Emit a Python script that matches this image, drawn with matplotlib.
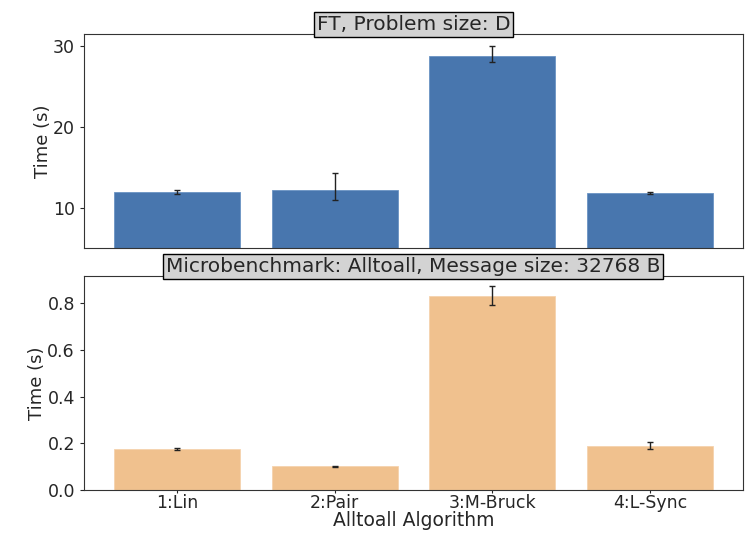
import matplotlib
matplotlib.use("Agg")
import matplotlib.pyplot as plt
from matplotlib.ticker import MultipleLocator
import numpy as np

algorithms = ["1:Lin", "2:Pair", "3:M-Bruck", "4:L-Sync"]

# FT kernel, problem size D (seconds)
ftTime = [11.9, 12.2, 28.8, 11.8]
ftErrLow = [0.2, 1.3, 0.7, 0.15]
ftErrHigh = [0.25, 2.1, 1.2, 0.15]

# alltoall microbenchmark, 32768 B messages (seconds)
mbTime = [0.175, 0.102, 0.833, 0.190]
mbErrLow = [0.003, 0.002, 0.04, 0.016]
mbErrHigh = [0.003, 0.002, 0.04, 0.014]

textColor = "#262626"
plt.rcParams.update({
    "font.size": 13,
    "text.color": textColor,
    "axes.labelcolor": textColor,
    "axes.edgecolor": "#333333",
    "xtick.color": textColor,
    "ytick.color": textColor,
    "xtick.labelsize": 12.5,
    "ytick.labelsize": 12.5,
})

fig = plt.figure(figsize=(7.52, 5.33), dpi=100)
axTop = fig.add_axes([0.1117, 0.5347, 0.8763, 0.4013])
axBot = fig.add_axes([0.1117, 0.0807, 0.8763, 0.4013])

x = np.arange(len(algorithms))
titleBox = dict(facecolor="lightgray", edgecolor="black", pad=2)

axTop.bar(x, ftTime, width=0.8, color="#4876ae", edgecolor="#6a93c4", linewidth=0.6,
          yerr=[ftErrLow, ftErrHigh], capsize=2.5,
          error_kw=dict(ecolor="#222222", elinewidth=1.0, capthick=1.0))
axTop.set_ylim(bottom=5)
axTop.yaxis.set_major_locator(MultipleLocator(10))
axTop.set_xticks([])
axTop.set_ylabel("Time (s)", labelpad=1)
axTop.set_title("FT, Problem size: D", fontsize=14.5, bbox=titleBox, pad=2)

axBot.bar(x, mbTime, width=0.8, color="#f0c18e", edgecolor="#f5d3ae", linewidth=0.6,
          yerr=[mbErrLow, mbErrHigh], capsize=2.5,
          error_kw=dict(ecolor="#222222", elinewidth=1.0, capthick=1.0))
axBot.set_xticks(x)
axBot.set_xticklabels(algorithms)
axBot.tick_params(axis="x", length=2.5, pad=0.5)
axBot.set_ylabel("Time (s)", labelpad=1)
axBot.set_xlabel("Alltoall Algorithm", fontsize=13.5, labelpad=-1)
axBot.set_title("Microbenchmark: Alltoall, Message size: 32768 B", fontsize=14.5,
                bbox=titleBox, pad=2)

for ax in (axTop, axBot):
    ax.tick_params(axis="y", length=3)

fig.savefig("out.png", dpi=100)
